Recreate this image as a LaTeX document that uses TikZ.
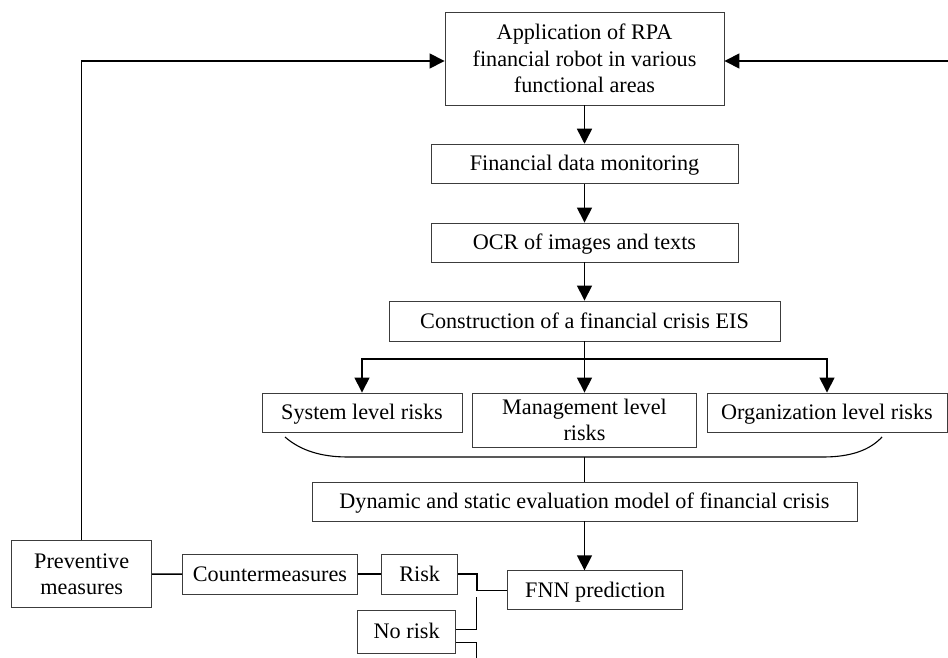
\documentclass[tikz,border=0pt]{standalone}
\usepackage{fontspec}
\setmainfont{Liberation Serif}
\usetikzlibrary{arrows.meta}

\tikzset{
  box/.style={draw={rgb, 255:red, 60; green, 60; blue, 60}, line width=0.9pt, inner sep=0.75pt, align=center,
    font=\fontsize{22.2}{26.7}\selectfont},
  onebox/.style={box, text height=14.5pt, text depth=0pt},
  link/.style={line width=1.5pt},
  arr/.style={link, -{Triangle[length=15pt,width=15pt]}}
}

\begin{document}
\begin{tikzpicture}[x=1pt,y=1pt,yscale=-1,xscale=1]
\useasboundingbox (0,0) rectangle (948,658);

% Text Node
\node [box, minimum width=279pt, minimum height=93pt] (app) at (584.5,58.5) {Application of RPA\\financial robot in various\\functional areas};
% Text Node
\node [onebox, minimum width=307pt, minimum height=39pt] (monitor) at (584.5,163.7) {Financial data monitoring};
% Text Node
\node [onebox, minimum width=307pt, minimum height=39pt] (ocr) at (584.5,242.5) {OCR of images and texts};
% Text Node
\node [onebox, minimum width=391pt, minimum height=40pt] (eis) at (584.5,321) {Construction of a financial crisis EIS};
% Text Node
\node [onebox, minimum width=200pt, minimum height=39pt] (sysrisk) at (362,412.5) {System level risks};
% Text Node
\node [box, minimum width=224pt, minimum height=54pt] (mgtrisk) at (584.5,420) {Management level\\risks};
% Text Node
\node [onebox, minimum width=240pt, minimum height=39pt] (orgrisk) at (827,412.5) {Organization level risks};
% Text Node
\node [onebox, minimum width=545pt, minimum height=39pt] (model) at (584.5,501.5) {Dynamic and static evaluation model of financial crisis};
% Text Node
\node [onebox, minimum width=175pt, minimum height=39pt] (fnn) at (595.2,590.3) {FNN prediction};
% Text Node
\node [onebox, minimum width=76pt, minimum height=40pt] (risk) at (419.7,574) {Risk};
% Text Node
\node [onebox, minimum width=98pt, minimum height=43pt] (norisk) at (406.7,631.5) {No risk};
% Text Node
\node [onebox, minimum width=175pt, minimum height=40pt] (counter) at (270,574) {Countermeasures};
% Text Node
\node [box, minimum width=140pt, minimum height=67pt] (prevent) at (81.7,574.2) {Preventive\\measures};

\coordinate (split) at (584.5,359);
\coordinate (join) at (584.5,457);
\coordinate (rightin) at (950,61);
\coordinate (nrtop) at (476.7,597);
\coordinate (nrout) at (476.7,660);

%Straight Lines
\draw [arr] (app) -- (monitor);
\draw [arr] (monitor) -- (ocr);
\draw [arr] (ocr) -- (eis);
\draw [link] (eis.south) -- (split);
\draw [arr] (split) -| (sysrisk.north);
\draw [arr] (split) -- (mgtrisk.north);
\draw [arr] (split) -| (orgrisk.north);

%Shape: Brace
\draw [line width=1.1pt] (285,437) .. controls (300,450) and (320,457) .. (348,457) -- (823,457) .. controls (851,457) and (870,450) .. (882,437) ;
\draw [link] (join) -- (model.north);

\draw [arr] (model.south) -- (model.south |- fnn.north);
\draw [link] (prevent) -- (counter);
\draw [link] (counter) -- (risk);
\draw [link] (risk.east) -- ++(19,0) |- (fnn.west);
\draw [link] ([yshift=-2pt]norisk.east) -| (nrtop);
\draw [link] ([yshift=11pt]norisk.east) -| (nrout);

% feedback
\draw [arr] (prevent.north) |- ([yshift=2.5pt]app.west);
\draw [arr] (rightin) -- ([yshift=2.5pt]app.east);

\end{tikzpicture}
\end{document}
